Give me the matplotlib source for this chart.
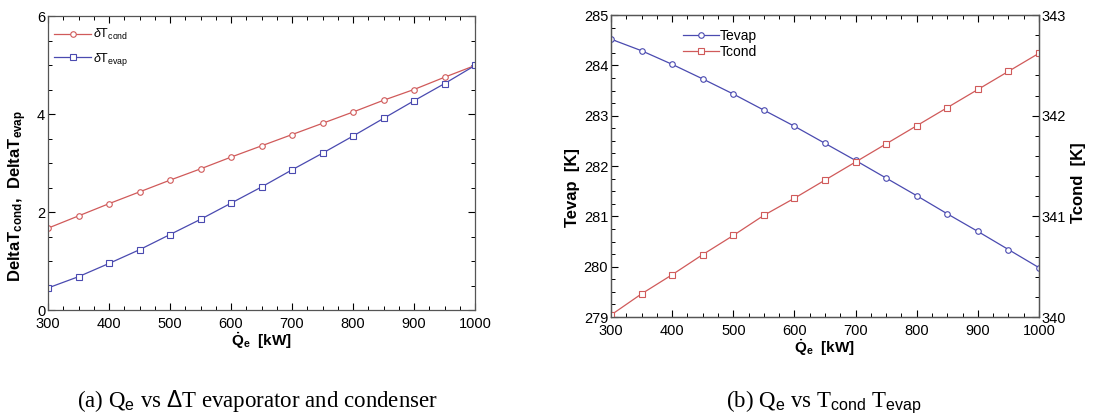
import numpy as np
import matplotlib
matplotlib.use("Agg")
import matplotlib.pyplot as plt
from matplotlib.ticker import MultipleLocator

plt.rcParams["font.family"] = ["Liberation Sans", "DejaVu Sans"]
plt.rcParams["mathtext.fontset"] = "custom"
plt.rcParams["mathtext.rm"] = "Liberation Sans"
plt.rcParams["mathtext.bf"] = "Liberation Sans:bold"
plt.rcParams["mathtext.it"] = "Liberation Sans:italic"

# =========================
# DATA
# =========================
q_e = [300, 350, 400, 450, 500, 550, 600, 650, 700, 750, 800, 850, 900, 950, 1000]

dt_cond = [1.67, 1.92, 2.17, 2.41, 2.65, 2.88, 3.12, 3.35, 3.58, 3.81, 4.04, 4.28, 4.50, 4.75, 4.99]
dt_evap = [0.45, 0.68, 0.95, 1.23, 1.54, 1.85, 2.18, 2.51, 2.86, 3.20, 3.55, 3.91, 4.27, 4.62, 4.99]

t_evap = [284.52, 284.29, 284.02, 283.73, 283.43, 283.11, 282.79, 282.45,
          282.11, 281.76, 281.41, 281.05, 280.70, 280.34, 279.98]
t_cond = [340.02, 340.23, 340.42, 340.62, 340.81, 341.01, 341.18, 341.36,
          341.54, 341.72, 341.90, 342.08, 342.26, 342.44, 342.62]

RED = "#d05a5a"
BLUE = "#4a4ab0"

fig = plt.figure(figsize=(11.14, 4.15), dpi=100)
W, H = 1114, 415


def style(ax, right=True):
    ax.tick_params(which="both", direction="in", top=True, right=right, labelsize=10.5)
    ax.tick_params(which="major", length=5, width=0.8)
    ax.tick_params(which="minor", length=3, width=0.7)
    ax.tick_params(axis="x", which="both", pad=5)
    ax.tick_params(axis="y", which="both", pad=2)
    for s in ax.spines.values():
        s.set_color("#555555")
        s.set_linewidth(0.9)


# =========================
# (a) delta T
# =========================
ax1 = fig.add_axes([48 / W, 1 - 310 / H, (475 - 48) / W, (310 - 16) / H])
ax1.plot(q_e, dt_cond, color=RED, lw=0.9, marker="o", ms=4, mfc="white", mew=0.8,
         label=r"$\delta$T$_{\mathrm{cond}}$")
ax1.plot(q_e, dt_evap, color=BLUE, lw=0.9, marker="s", ms=4, mfc="white", mew=0.8,
         label=r"$\delta$T$_{\mathrm{evap}}$")
ax1.set_xlim(300, 1000)
ax1.set_ylim(0, 6)
ax1.xaxis.set_major_locator(MultipleLocator(100))
ax1.xaxis.set_minor_locator(MultipleLocator(25))
ax1.yaxis.set_major_locator(MultipleLocator(2))
ax1.yaxis.set_minor_locator(MultipleLocator(0.5))
style(ax1)
ax1.set_xlabel(r"$\mathbf{\dot{Q}_e}$  [kW]", fontsize=11, fontweight="bold", labelpad=0)
ax1.set_ylabel(r"DeltaT$_{\mathbf{cond}}$,  DeltaT$_{\mathbf{evap}}$",
               fontsize=12, fontweight="bold")
ax1.yaxis.set_label_coords(-0.045, 0.388)
ax1.legend(loc="center left", bbox_to_anchor=(0.014, 0.893), frameon=False, fontsize=9,
           handlelength=3, borderpad=0, borderaxespad=0, labelspacing=0.65,
           handletextpad=0.1)

# =========================
# (b) temperatures
# =========================
ax2 = fig.add_axes([611 / W, 1 - 317 / H, (1039 - 611) / W, (317 - 15) / H])
ax3 = ax2.twinx()
l1, = ax2.plot(q_e, t_evap, color=BLUE, lw=0.9, marker="o", ms=4, mfc="white", mew=0.8,
               label="Tevap")
l2, = ax3.plot(q_e, t_cond, color=RED, lw=0.9, marker="s", ms=4, mfc="white", mew=0.8,
               label="Tcond")
ax2.set_xlim(300, 1000)
ax2.set_ylim(279, 285)
ax3.set_ylim(340, 343)
ax2.xaxis.set_major_locator(MultipleLocator(100))
ax2.xaxis.set_minor_locator(MultipleLocator(25))
ax2.yaxis.set_major_locator(MultipleLocator(1))
ax2.yaxis.set_minor_locator(MultipleLocator(0.25))
ax3.yaxis.set_major_locator(MultipleLocator(1))
ax3.yaxis.set_minor_locator(MultipleLocator(0.2))
style(ax2, right=False)
style(ax3)
ax3.tick_params(which="both", direction="in", left=False, top=False)
ax2.set_xlabel(r"$\mathbf{\dot{Q}_e}$  [kW]", fontsize=11, fontweight="bold", labelpad=0)
ax2.set_ylabel("Tevap  [K]", fontsize=12, fontweight="bold")
ax3.set_ylabel("Tcond  [K]", fontsize=12, fontweight="bold")
ax2.yaxis.set_label_coords(-0.072, 0.43)
ax3.yaxis.set_label_coords(1.074, 0.445)
ax2.legend(handles=[l1, l2], loc="center left", bbox_to_anchor=(0.168, 0.904), frameon=False,
           fontsize=10, handlelength=2.6, borderpad=0, borderaxespad=0, labelspacing=0.15,
           handletextpad=0.05)

# =========================
# CAPTIONS
# =========================
cap = dict(fontsize=16.5, family=["Liberation Serif", "DejaVu Serif"], ha="center", va="baseline")
fig.text(257 / W, 1 - 407 / H, r"(a) Q$_{\mathrm{e}}$ vs $\Delta$T evaporator and condenser", **cap)
fig.text(824 / W, 1 - 407 / H, r"(b) Q$_{\mathrm{e}}$ vs T$_{\mathrm{cond}}$ T$_{\mathrm{evap}}$", **cap)

fig.savefig("out.png", dpi=100)
plt.close(fig)
